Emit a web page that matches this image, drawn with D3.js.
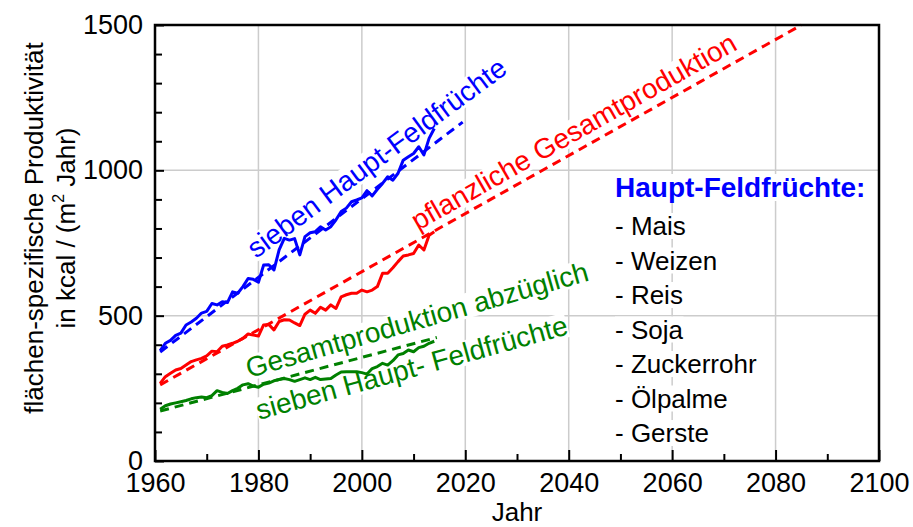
<!DOCTYPE html>
<html><head><meta charset="utf-8">
<script src="https://cdn.jsdelivr.net/npm/d3@7"></script>
<style>
body{margin:0;background:#fff}
text{font-family:Arial,"Liberation Sans",sans-serif}
</style>
</head><body>
<svg id="c" width="913" height="527"></svg>
<script>
// ---------------- data ----------------
const years = [1961,1962,1963,1964,1965,1966,1967,1968,1969,1970,
  1971,1972,1973,1974,1975,1976,1977,1978,1979,1980,
  1981,1982,1983,1984,1985,1986,1987,1988,1989,1990,
  1991,1992,1993,1994,1995,1996,1997,1998,1999,2000,
  2001,2002,2003,2004,2005,2006,2007,2008,2009,2010,
  2011,2012,2013,2014];
const blueValues = [380,405,415,432,440,468,478,491,509,515,
  542,537,548,545,582,577,600,628,625,615,
  674,675,657,726,766,760,765,709,772,785,
  789,806,795,806,830,858,870,892,898,905,
  930,912,935,955,978,966,990,1035,1047,1058,
  1081,1053,1110,1144];
const redValues = [267,290,302,313,318,330,342,348,353,362,
  378,376,395,399,405,412,422,437,433,430,
  468,470,451,480,486,485,475,466,505,519,
  508,529,519,537,525,565,572,577,577,588,
  582,588,600,646,646,665,686,705,709,714,
  743,726,777,789];
const greenValues = [178,190,196,200,204,208,214,218,220,218,
  225,242,236,232,242,250,262,266,258,254,
  264,268,276,280,284,280,274,280,286,280,
  288,280,282,284,296,306,307,307,307,304,
  299,318,325,336,330,345,365,370,382,376,
  390,395,405,412];
const blueTrendYears = [1961, 2019.5];
const blueTrendValues = [375, 1166];
const redTrendYears = [1961, 2085];
const redTrendValues = [262, 1500];
const greenTrendYears = [1961, 2014.5];
const greenTrendValues = [172, 425];

const xTickLabels = [1960,1980,2000,2020,2040,2060,2080,2100];
const xMinorTicks = [1970,1990,2010,2030,2050,2070,2090];
const yTickLabels = [0,500,1000,1500];
const yMinorTicks = [100,200,300,400,600,700,800,900,1100,1200,1300,1400];
const xGridValues = [1980,2000,2020,2040,2060,2080];
const yGridValues = [500,1000];
const legendTitle = "Haupt-Feldfrüchte:";
const legendItems = ["- Mais","- Weizen","- Reis","- Soja","- Zuckerrohr","- Ölpalme","- Gerste"];

// ---------------- chart ----------------
const BLUE="#0000ff", RED="#ff0000", GREEN="#008000";
const svg = d3.select("#c");
const x = d3.scaleLinear().domain([1960,2100]).range([155,879]);
const y = d3.scaleLinear().domain([0,1500]).range([461,25]);

const gGrid = svg.append("g");
const gBg = svg.append("g");
const gLines = svg.append("g");
const gAxes = svg.append("g");
const gText = svg.append("g");

gGrid.selectAll("line.vx").data(xGridValues).join("line")
  .attr("x1",d=>x(d)).attr("x2",d=>x(d)).attr("y1",y(0)).attr("y2",y(1500))
  .attr("stroke","#cccccc").attr("stroke-width",1.5);
gGrid.selectAll("line.hy").data(yGridValues).join("line")
  .attr("y1",d=>y(d)).attr("y2",d=>y(d)).attr("x1",x(1960)).attr("x2",x(2100))
  .attr("stroke","#cccccc").attr("stroke-width",1.5);

// lines
const line = d3.line().x(d=>x(d[0])).y(d=>y(d[1]));
function drawSeries(vals, color){
  gLines.append("path").datum(years.map((yr,i)=>[yr, vals[i]]))
    .attr("d", line).attr("fill","none").attr("stroke",color)
    .attr("stroke-width",3).attr("stroke-linejoin","round");
}
function drawTrend(ys, vals, color){
  gLines.append("path").datum(ys.map((yr,i)=>[yr, vals[i]]))
    .attr("d", line).attr("fill","none").attr("stroke",color)
    .attr("stroke-width",3).attr("stroke-dasharray","9,6");
}
drawTrend(greenTrendYears, greenTrendValues, GREEN);
drawSeries(greenValues, GREEN);
drawTrend(redTrendYears, redTrendValues, RED);
drawSeries(redValues, RED);
drawTrend(blueTrendYears, blueTrendValues, BLUE);
drawSeries(blueValues, BLUE);

// axes
const fs = 27;
gAxes.append("g").attr("transform",`translate(0,${y(0)})`)
  .call(d3.axisBottom(x).tickValues(xTickLabels).tickSize(-11).tickPadding(12).tickFormat(d3.format("d")));
gAxes.append("g").attr("transform",`translate(0,${y(0)})`)
  .call(d3.axisBottom(x).tickValues(xMinorTicks).tickSize(-7).tickFormat(""));
gAxes.append("g").attr("transform",`translate(${x(1960)},0)`)
  .call(d3.axisLeft(y).tickValues(yTickLabels).tickSize(-9).tickPadding(12).tickFormat(d3.format("d")));
gAxes.append("g").attr("transform",`translate(${x(1960)},0)`)
  .call(d3.axisLeft(y).tickValues(yMinorTicks).tickSize(-7).tickFormat(""));
gAxes.selectAll(".domain").remove();
gAxes.selectAll(".tick line").attr("stroke","#000").attr("stroke-width",2);
gAxes.selectAll(".tick text").attr("font-size",fs).attr("font-family","Arial, 'Liberation Sans', sans-serif").attr("fill","#000");
gAxes.append("rect").attr("x",x(1960)).attr("y",y(1500)).attr("width",x(2100)-x(1960)).attr("height",y(0)-y(1500))
  .attr("fill","none").attr("stroke","#000").attr("stroke-width",2.5);

// axis titles
gText.append("text").attr("x",(x(1960)+x(2100))/2).attr("y",521).attr("text-anchor","middle")
  .attr("font-size",26).text("Jahr");
gText.append("text").attr("transform","translate(43,228) rotate(-90)").attr("text-anchor","middle")
  .attr("font-size",26).text("flächen-spezifische Produktivität");
const t2 = gText.append("text").attr("transform","translate(75,228) rotate(-90)").attr("text-anchor","middle")
  .attr("font-size",26);
t2.append("tspan").text("in kcal / (m");
t2.append("tspan").attr("font-size",16).attr("dy",-11).text("2");
t2.append("tspan").attr("dy",11).text(" Jahr)");

// annotations with white background
function annot(str, px, py, ang, color){
  const g = gText.append("g").attr("transform",`translate(${px},${py}) rotate(${ang})`);
  const t = g.append("text").attr("font-size",28).attr("fill",color).text(str);
  const b = t.node().getBBox();
  gBg.append("g").attr("transform",`translate(${px},${py}) rotate(${ang})`)
    .append("rect").attr("x",b.x).attr("y",b.y+3).attr("width",b.width).attr("height",b.height-6).attr("fill","#fff");
}
annot("sieben Haupt-Feldfrüchte", 256, 259, -36.5, BLUE);
annot("pflanzliche Gesamtproduktion", 418, 231, -29.6, RED);
annot("Gesamtproduktion abzüglich", 249, 378, -16, GREEN);
annot("sieben Haupt- Feldfrüchte", 259, 420, -15.5, GREEN);

// legend box
function legText(str, px, py, opts){
  const t = gText.append("text").attr("x",px).attr("y",py).attr("font-size",opts.size)
    .attr("font-weight",opts.bold?"bold":"normal").attr("fill",opts.color).text(str);
  const b = t.node().getBBox();
  gBg.append("rect").attr("x",b.x).attr("y",b.y+2).attr("width",b.width).attr("height",b.height-4).attr("fill","#fff");
}
legText(legendTitle, 615, 197, {size:28, bold:true, color:BLUE});
legendItems.forEach((s,i)=> legText(s, 615, 235 + i*34.5, {size:26, bold:false, color:"#000"}));
</script>
</body></html>
